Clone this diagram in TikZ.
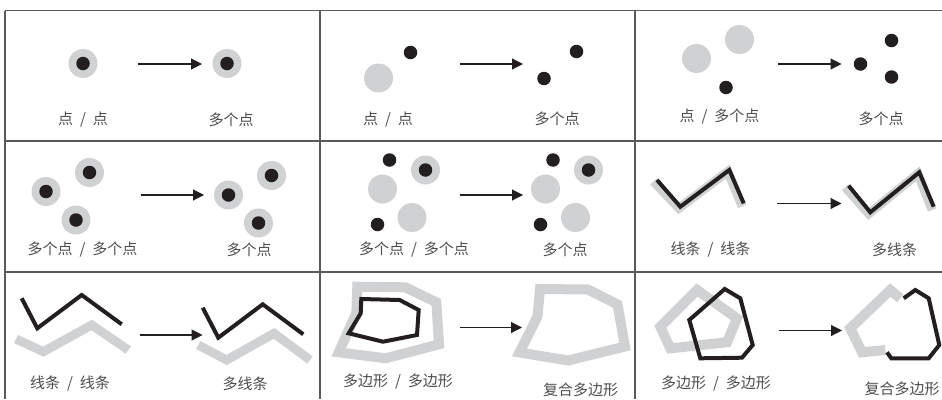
\documentclass[tikz,border=0pt]{standalone}
\usepackage{fontspec}
\newfontfamily\cjk{Noto Sans CJK SC}
\usetikzlibrary{arrows.meta}
\definecolor{halogrey}{RGB}{208,209,211}
\definecolor{inkblack}{RGB}{35,31,32}
\definecolor{rulegrey}{RGB}{90,90,90}
\newcommand{\slashsep}{\hspace{7pt}/\hspace{7pt}}

\begin{document}
\begin{tikzpicture}[x=1pt, y=-1pt,
  halo/.style={circle, fill=halogrey, minimum size=29pt, inner sep=0pt},
  dot/.style={circle, fill=inkblack, minimum size=13.5pt, inner sep=0pt},
  lbl/.style={font=\cjk\fontsize{15}{15}\selectfont, text=inkblack!80, inner sep=0pt},
  arr/.style={-{Triangle[length=11pt, width=11pt]}, line width=1.1pt, inkblack},
  blackline/.style={draw=inkblack, line width=4pt},
  greyline/.style={draw=halogrey, line width=9pt},
  greyring/.style={draw=halogrey, line width=10pt}]
\useasboundingbox (0,0) rectangle (942,399);
\begin{scope}
\clip (0,0) rectangle (942,399);
% grid
\draw[rulegrey, line width=1.4pt] (5,10.5) -- (942,10.5) (5,10.5) -- (5,399)
  (320,10.5) -- (320,399) (635,10.5) -- (635,399)
  (5,141) -- (942,141) (5,272) -- (942,272);

% row 1
\node[halo] (h1a) at (83,63.5) {}; \node[dot] (d1a) at (h1a) {};
\node[halo] (h1b) at (227,63.5) {}; \node[dot] (d1b) at (h1b) {};
\coordinate (a1s) at (137.5,64); \coordinate (a1e) at (202,64);
\draw[arr] (a1s) -- (a1e);
\node[lbl] (t1a) at (83,120) {点\slashsep 点};
\node[lbl] (t1b) at (231,120) {多个点};

\node[halo] (h2a) at (378.5,78) {};
\node[dot] (d2a) at (410.5,52.5) {};
\node[dot] (d2b) at (576.5,51.5) {};
\node[dot] (d2c) at (544,78.5) {};
\coordinate (a2s) at (459.5,64); \coordinate (a2e) at (523,64);
\draw[arr] (a2s) -- (a2e);
\node[lbl] (t2a) at (388,120) {点\slashsep 点};
\node[lbl] (t2b) at (557,119) {多个点};

\node[halo] (h3a) at (696.5,58.5) {};
\node[halo] (h3b) at (739.5,39.5) {};
\node[dot] (d3a) at (726,87.5) {};
\node[dot] (d3b) at (860.5,64) {};
\node[dot] (d3c) at (891.5,40.5) {};
\node[dot] (d3d) at (891.5,77) {};
\coordinate (a3s) at (778,64); \coordinate (a3e) at (841.5,64);
\draw[arr] (a3s) -- (a3e);
\node[lbl] (t3a) at (719.5,117) {点\slashsep 多个点};
\node[lbl] (t3b) at (881,119) {多个点};

% row 2
\foreach \n/\x/\y in {4a/46/191.5, 4b/89.5/172.5, 4c/76/220,
                      4d/228.5/195, 4e/271.5/175.5, 4f/258.5/223}
  {\node[halo] (h\n) at (\x,\y) {}; \node[dot] (d\n) at (h\n) {};}
\coordinate (a4s) at (140.5,195); \coordinate (a4e) at (204,195);
\draw[arr] (a4s) -- (a4e);
\node[lbl] (t4a) at (82.5,250) {多个点\slashsep 多个点};
\node[lbl] (t4b) at (249,250) {多个点};

\node[halo] (h5a) at (425.5,170) {}; \node[dot] (d5a) at (h5a) {};
\node[halo] (h5b) at (382.5,189) {};
\node[halo] (h5c) at (412,217.5) {};
\node[dot] (d5b) at (389.5,160) {};
\node[dot] (d5c) at (377.5,224.5) {};
\node[halo] (h5d) at (588.5,170) {}; \node[dot] (d5d) at (h5d) {};
\node[halo] (h5e) at (545.5,189) {};
\node[halo] (h5f) at (575.5,217.5) {};
\node[dot] (d5e) at (553,160) {};
\node[dot] (d5f) at (540.5,224.5) {};
\coordinate (a5s) at (459.5,195); \coordinate (a5e) at (523,195);
\draw[arr] (a5s) -- (a5e);
\node[lbl] (t5a) at (414,250) {多个点\slashsep 多个点};
\node[lbl] (t5b) at (565,250) {多个点};

\draw[greyline, shift={(-1.5,1.5)}] (655,180) -- (680.3,206.7) -- (729.3,170) -- (743.7,205);
\draw[blackline] (657,180) -- (680.3,206.7) -- (729.3,170) -- (743.7,203.3);
\draw[greyline, shift={(-1.5,1.5)}] (846.7,185.7) -- (870.3,212.3) -- (919.3,172.3) -- (933.7,208.5);
\draw[blackline] (848.7,185.7) -- (870.3,212.3) -- (919.3,172.3) -- (933.7,206.7);
\coordinate (a6s) at (777,203.5); \coordinate (a6e) at (841.5,203.5);
\draw[arr] (a6s) -- (a6e);
\node[lbl] (t6a) at (710.5,250) {线条\slashsep 线条};
\node[lbl] (t6b) at (894.5,250) {多线条};

% row 3
\draw[greyline] (16,339) -- (43.3,351.7) -- (91.7,325) -- (128.3,350);
\draw[blackline] (21.7,298.3) -- (37.3,328.3) -- (81.7,295) -- (121.7,324.3);
\draw[greyline] (198.3,345) -- (226.7,360) -- (274,333.3) -- (310,360);
\draw[blackline] (202.7,307.7) -- (218.3,337.7) -- (262.7,304.3) -- (303.3,334.3);
\coordinate (a7s) at (139.5,335); \coordinate (a7e) at (202.5,335);
\draw[arr] (a7s) -- (a7e);
\node[lbl] (t7a) at (70,383.5) {线条\slashsep 线条};
\node[lbl] (t7b) at (245,383.5) {多线条};

\draw[greyring] (357.3,286.7) -- (405.3,287.3) -- (436.3,302.3) -- (439,344.3)
  -- (385.7,358.3) -- (338.7,352.3) -- (356.3,313.3) -- cycle;
\draw[blackline] (361.3,299) -- (399.7,300) -- (418.7,310) -- (417,335)
  -- (383,341.7) -- (348.7,333.3) -- (360.7,313.3) -- cycle;
\draw[greyring] (540,289) -- (588,289.5) -- (617.5,304.5) -- (625,346.5)
  -- (568,360.5) -- (519.5,352.5) -- (537.5,316.5) -- cycle;
\coordinate (a8s) at (459.5,327.5); \coordinate (a8e) at (522,327.5);
\draw[arr] (a8s) -- (a8e);
\node[lbl] (t8a) at (398,382) {多边形\slashsep 多边形};
\node[lbl] (t8b) at (580.5,389.5) {复合多边形};

\draw[greyring] (697,290) -- (737,318.3) -- (727,342.3) -- (670.3,348.3) -- (660.3,326.7) -- cycle;
\draw[blackline] (724.7,289) -- (740.3,298.3) -- (752.7,345) -- (742,357.7)
  -- (700.3,358.3) -- (689.3,320) -- cycle;
\draw[greyring] (900.3,298.3) -- (890.3,290) -- (850.3,328.3) -- (862,352.3) -- (885.3,350);
\draw[blackline] (887,352.3) -- (891.3,358.3) -- (928.7,358.3) -- (939.3,345)
  -- (928.7,298.3) -- (915.3,290) -- (903.7,298.3);
\coordinate (a9s) at (778.5,330.5); \coordinate (a9e) at (842,330.5);
\draw[arr] (a9s) -- (a9e);
\node[lbl] (t9a) at (716,383.5) {多边形\slashsep 多边形};
\node[lbl] (t9b) at (902,388.5) {复合多边形};
\end{scope}
\end{tikzpicture}
\end{document}
